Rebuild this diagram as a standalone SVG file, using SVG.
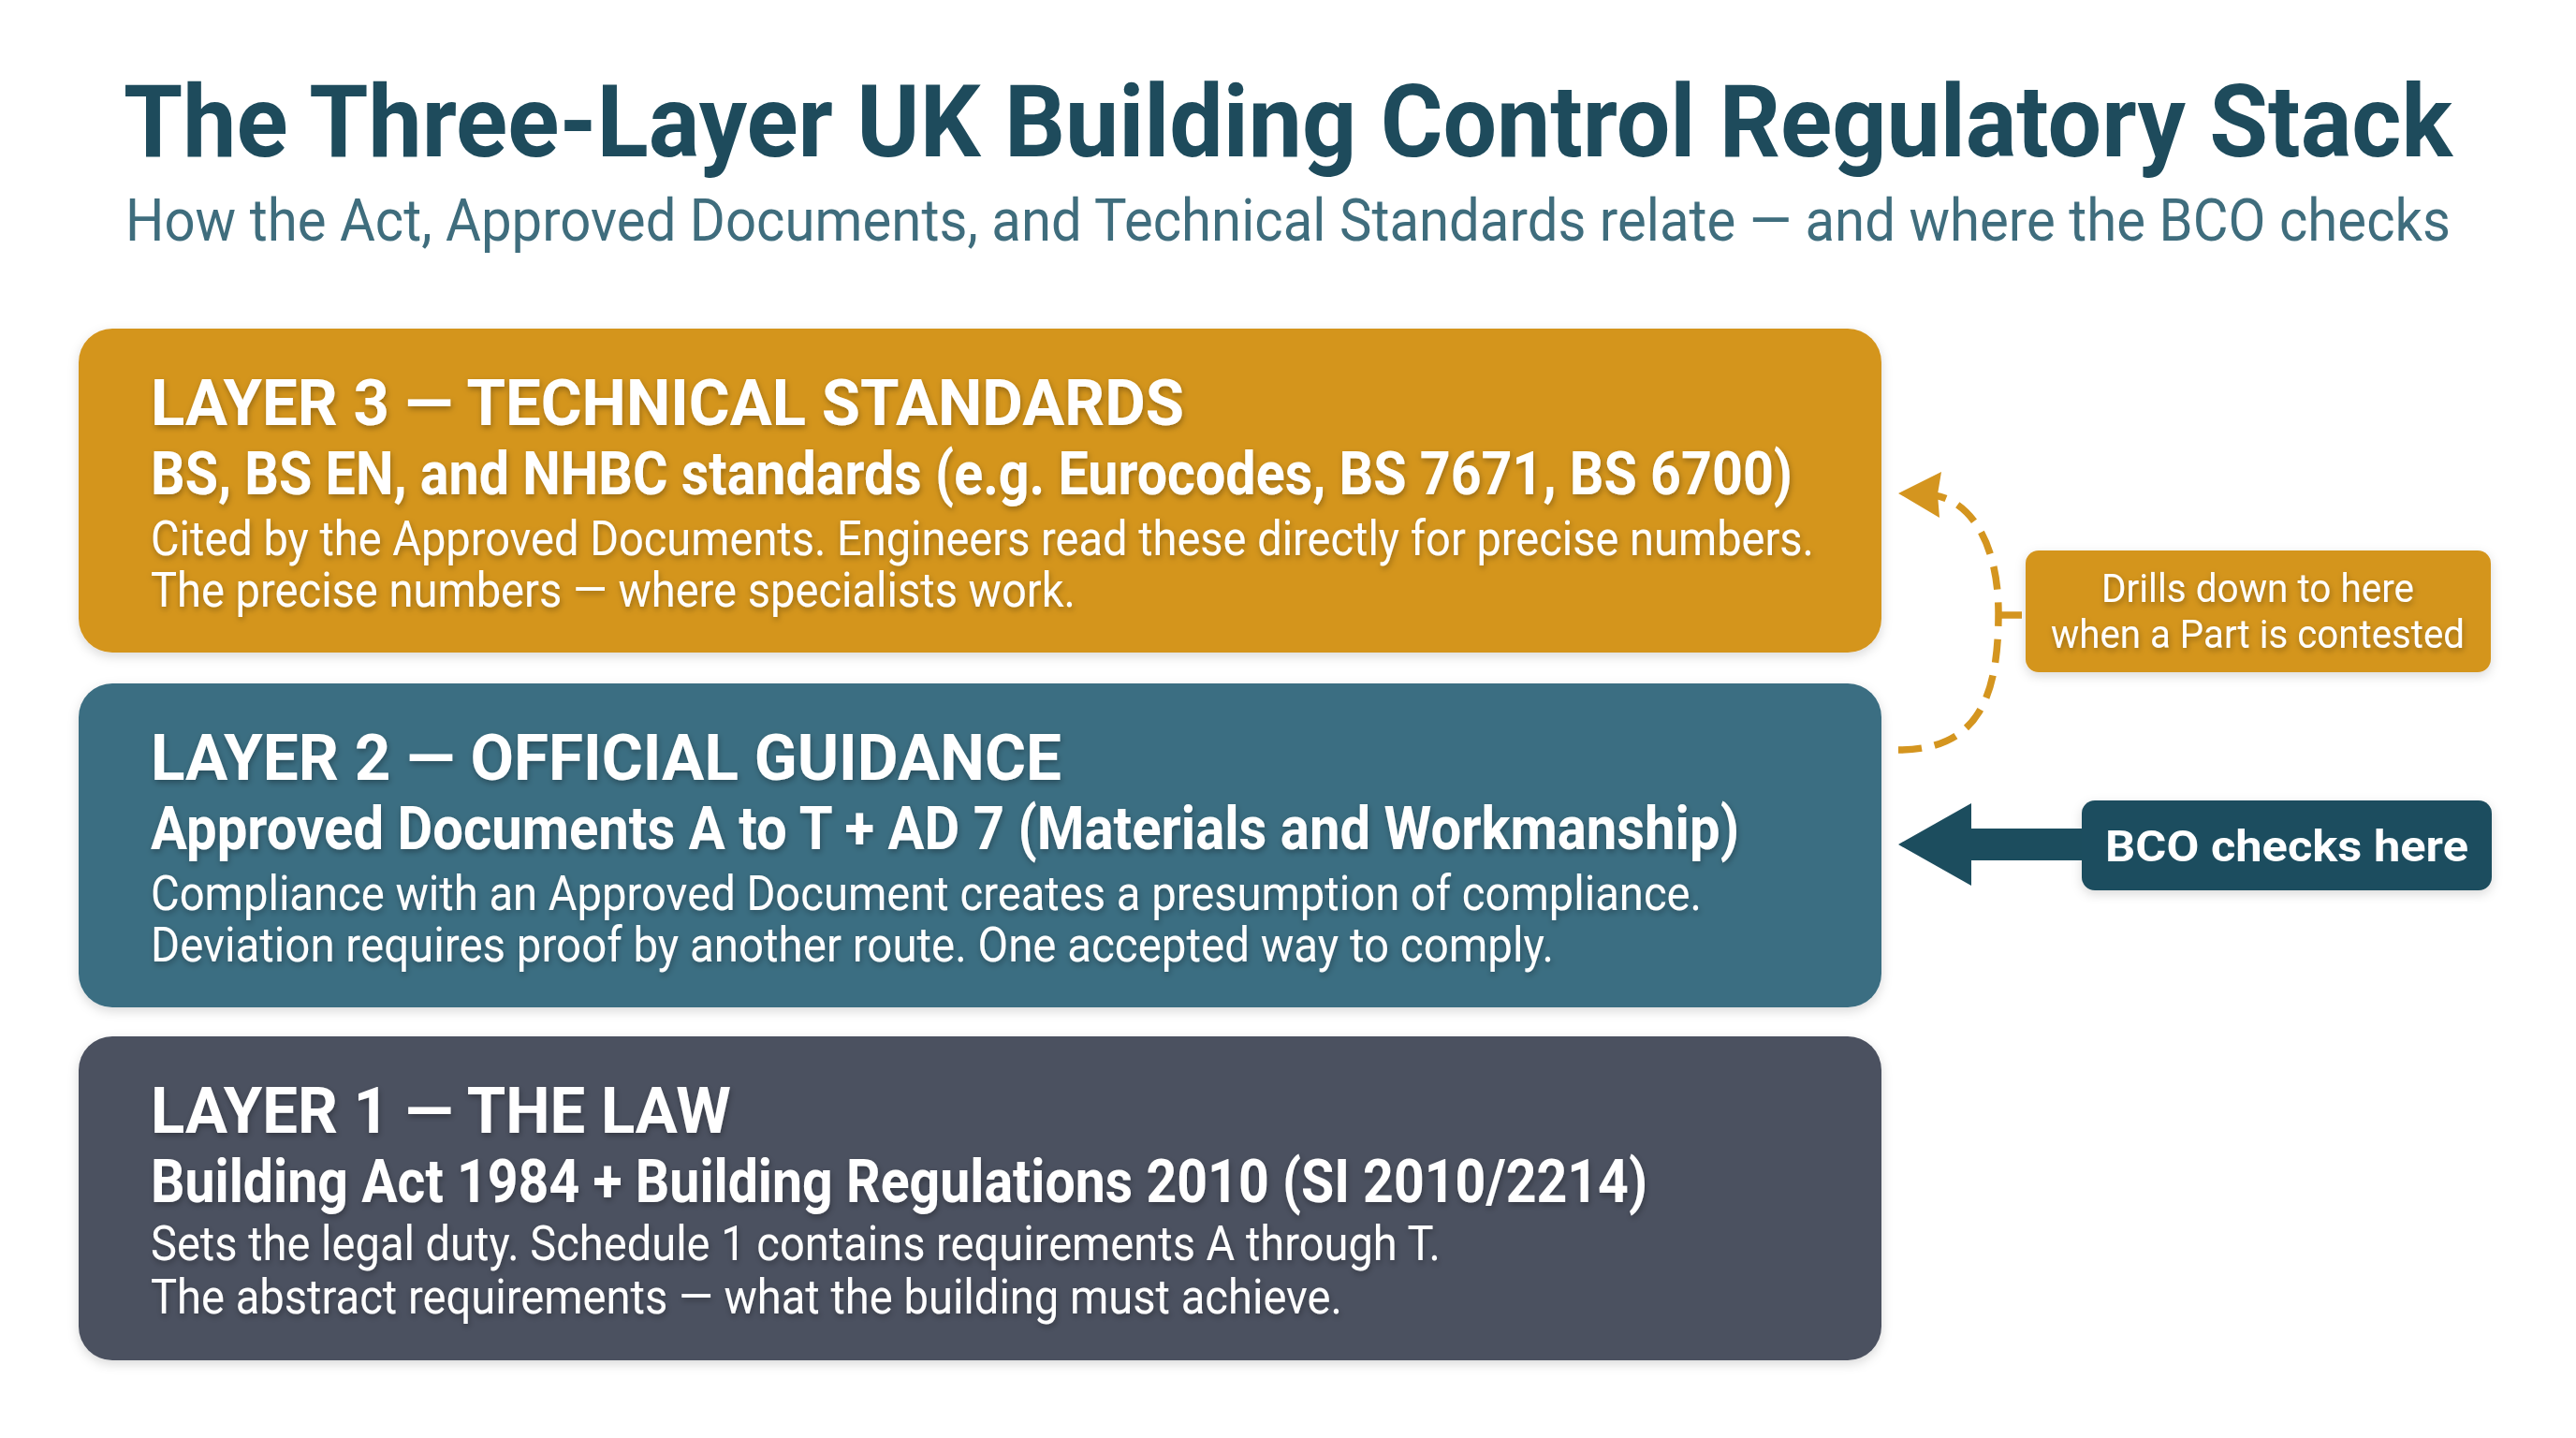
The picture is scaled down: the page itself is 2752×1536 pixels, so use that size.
<svg xmlns="http://www.w3.org/2000/svg" width="2752" height="1536" viewBox="0 0 2752 1536">
<defs>
<filter id="boxShadow" x="-5%" y="-10%" width="110%" height="125%">
<feDropShadow dx="0" dy="4" stdDeviation="6" flood-color="#000" flood-opacity="0.15"/>
</filter>
<filter id="txtShadow" x="-5%" y="-30%" width="110%" height="160%">
<feDropShadow dx="1" dy="3" stdDeviation="3" flood-color="#000" flood-opacity="0.3"/>
</filter>
</defs>
<style>
text{font-family:Roboto,"Liberation Sans",Arial,sans-serif;}
.title{font-size:107px;font-weight:700;fill:#1E4B5C;}
.sub{font-size:63px;font-weight:400;fill:#3F6D7D;}
.h1{font-size:69px;font-weight:700;fill:#FFFFFF;}
.h2{font-size:65px;font-weight:700;fill:#FFFFFF;}
.body{font-size:52px;font-weight:400;fill:#FFFFFF;}
.note{font-size:42px;font-weight:400;fill:#FFFFFF;}
.bco{font-size:47px;font-weight:700;fill:#FFFFFF;}
.gold{fill:#D4951F;}
.teal{fill:#3B6E82;}
.slate{fill:#4B5160;}
.dark{fill:#1C4D5E;}
</style>
<rect width="2752" height="1536" fill="#FFFFFF"/>

<g id="header">
<text class="title" x="1376" y="167" text-anchor="middle" textLength="2488" lengthAdjust="spacingAndGlyphs">The Three-Layer UK Building Control Regulatory Stack</text>
<text class="sub" x="1376" y="257" text-anchor="middle" textLength="2484" lengthAdjust="spacingAndGlyphs">How the Act, Approved Documents, and Technical Standards relate — and where the BCO checks</text>
</g>

<g id="layer3">
<rect class="gold" x="84" y="351" width="1926" height="346" rx="36" filter="url(#boxShadow)"/>
<g filter="url(#txtShadow)">
<text class="h1" x="161" y="454" textLength="1104" lengthAdjust="spacingAndGlyphs">LAYER 3 — TECHNICAL STANDARDS</text>
<text class="h2" x="161" y="528" textLength="1754" lengthAdjust="spacingAndGlyphs">BS, BS EN, and NHBC standards (e.g. Eurocodes, BS 7671, BS 6700)</text>
<text class="body" x="161" y="593" textLength="1777" lengthAdjust="spacingAndGlyphs">Cited by the Approved Documents. Engineers read these directly for precise numbers.</text>
<text class="body" x="161" y="648" textLength="988" lengthAdjust="spacingAndGlyphs">The precise numbers — where specialists work.</text>
</g>
</g>

<g id="layer2">
<rect class="teal" x="84" y="730" width="1926" height="346" rx="36" filter="url(#boxShadow)"/>
<g filter="url(#txtShadow)">
<text class="h1" x="161" y="833" textLength="973" lengthAdjust="spacingAndGlyphs">LAYER 2 — OFFICIAL GUIDANCE</text>
<text class="h2" x="161" y="907" textLength="1697" lengthAdjust="spacingAndGlyphs">Approved Documents A to T + AD 7 (Materials and Workmanship)</text>
<text class="body" x="161" y="972" textLength="1657" lengthAdjust="spacingAndGlyphs">Compliance with an Approved Document creates a presumption of compliance.</text>
<text class="body" x="161" y="1027" textLength="1499" lengthAdjust="spacingAndGlyphs">Deviation requires proof by another route. One accepted way to comply.</text>
</g>
</g>

<g id="layer1">
<rect class="slate" x="84" y="1107" width="1926" height="346" rx="36" filter="url(#boxShadow)"/>
<g filter="url(#txtShadow)">
<text class="h1" x="161" y="1210" textLength="620" lengthAdjust="spacingAndGlyphs">LAYER 1 — THE LAW</text>
<text class="h2" x="161" y="1284" textLength="1599" lengthAdjust="spacingAndGlyphs">Building Act 1984 + Building Regulations 2010 (SI 2010/2214)</text>
<text class="body" x="161" y="1346" textLength="1378" lengthAdjust="spacingAndGlyphs">Sets the legal duty. Schedule 1 contains requirements A through T.</text>
<text class="body" x="161" y="1403" textLength="1273" lengthAdjust="spacingAndGlyphs">The abstract requirements — what the building must achieve.</text>
</g>
</g>

<g id="drills-note">
<rect class="gold" x="2164" y="588" width="497" height="130" rx="14" filter="url(#boxShadow)"/>
<g filter="url(#txtShadow)">
<text class="note" x="2412" y="643" text-anchor="middle" textLength="334" lengthAdjust="spacingAndGlyphs">Drills down to here</text>
<text class="note" x="2412" y="692" text-anchor="middle" textLength="442" lengthAdjust="spacingAndGlyphs">when a Part is contested</text>
</g>
</g>

<g id="bco-note">
<rect class="dark" x="2224" y="855" width="438" height="96" rx="14" filter="url(#boxShadow)"/>
<text class="bco" x="2443" y="920" text-anchor="middle" textLength="388" lengthAdjust="spacingAndGlyphs">BCO checks here</text>
</g>

<g id="connectors">
<path d="M 2028 801 C 2110 801 2135 750 2135 655 C 2135 580 2105 535 2066 529" fill="none" stroke="#D4951F" stroke-width="7.5" stroke-dasharray="25 14"/>
<line x1="2134" y1="657" x2="2160" y2="657" stroke="#D4951F" stroke-width="7.5"/>
<polygon points="2028,527 2074,504 2070,528 2072,553" fill="#D4951F"/>
<polygon points="2224,885 2106,885 2106,858 2028,902 2106,946 2106,919 2224,919" fill="#1C4D5E"/>
</g>
</svg>
